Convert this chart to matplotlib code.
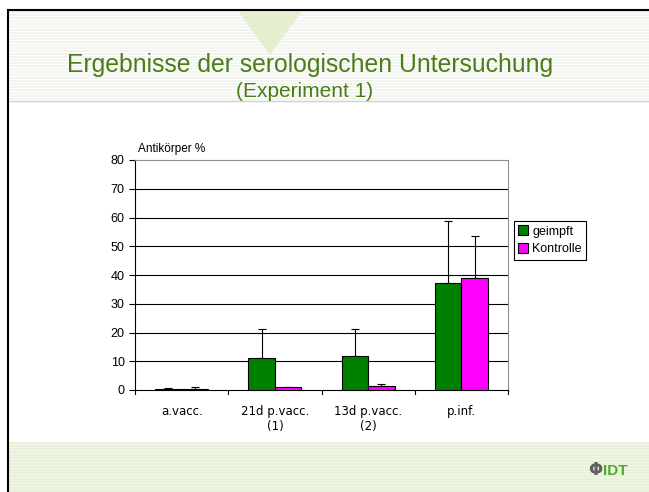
import numpy as np
from matplotlib import pyplot as plt
from matplotlib.patches import Rectangle, Polygon
from matplotlib.lines import Line2D

categories = ['a.vacc.', '21d p.vacc.\n(1)', '13d p.vacc.\n(2)', 'p.inf.']
geimpft = [0.5, 11.0, 12.0, 37.3]
geimpft_err = [0.3, 10.2, 9.2, 21.6]
kontrolle = [0.5, 1.0, 1.3, 38.8]
kontrolle_err = [0.7, 0.2, 0.7, 14.9]
yticks = [0, 10, 20, 30, 40, 50, 60, 70, 80]

W, H = 649, 492


def fx(px):
    return px / W


def fy(py):
    return 1 - py / H


def main():
    fig = plt.figure(figsize=(6.49, 4.92), dpi=100)
    fig.patch.set_facecolor('white')

    # slide background: striped header and footer bands
    for py in np.arange(11, 100, 3):
        fig.add_artist(Rectangle((fx(9), fy(py + 1.5)), 1, 1.5 / H,
                                 transform=fig.transFigure, color='#f3f4ef', lw=0))
    fig.add_artist(Rectangle((fx(9), fy(492)), 1, 50 / H, transform=fig.transFigure,
                             color='#f1f6e8', lw=0, zorder=-1))
    for py in np.arange(442, 492, 3):
        fig.add_artist(Rectangle((fx(9), fy(py + 1.5)), 1, 1.5 / H,
                                 transform=fig.transFigure, color='#e8f0da', lw=0))
    fig.add_artist(Polygon([(fx(238), fy(11)), (fx(302), fy(11)), (fx(270), fy(55))],
                           closed=True, transform=fig.transFigure, color='#e3efcf', lw=0))
    fig.add_artist(Line2D([fx(9), 1], [fy(101), fy(101)], transform=fig.transFigure,
                          color='#d0d0d0', lw=1))
    # slide frame
    fig.add_artist(Line2D([fx(8), fx(8)], [0, fy(10)], transform=fig.transFigure,
                          color='black', lw=1.5))
    fig.add_artist(Line2D([fx(8), 1], [fy(10), fy(10)], transform=fig.transFigure,
                          color='black', lw=1.5))

    fig.text(fx(67), fy(72), 'Ergebnisse der serologischen Untersuchung', color='#4a7d17',
             fontsize=17.8, family='Liberation Sans', va='baseline', ha='left')
    fig.text(fx(305), fy(97), '(Experiment 1)', color='#4a7d17',
             fontsize=15, family='Liberation Sans', va='baseline', ha='center')

    axes = fig.add_axes([fx(135), fy(390), (508 - 135) / W, (390 - 160) / H])
    x = np.arange(len(categories))
    w = 0.285
    axes.bar(x - w / 2, geimpft, w, color='#008000', edgecolor='black', lw=0.8,
             label='geimpft', zorder=3)
    axes.bar(x + w / 2, kontrolle, w, color='#ff00ff', edgecolor='black', lw=0.8,
             label='Kontrolle', zorder=3)
    axes.errorbar(x - w / 2, geimpft, yerr=[np.zeros(4), geimpft_err], fmt='none',
                  ecolor='black', elinewidth=0.8, capsize=3, capthick=0.8, zorder=2)
    axes.errorbar(x + w / 2, kontrolle, yerr=[np.zeros(4), kontrolle_err], fmt='none',
                  ecolor='black', elinewidth=0.8, capsize=3, capthick=0.8, zorder=2)

    axes.set_xlim(-0.5, len(categories) - 0.5)
    axes.set_ylim(0, 80)
    axes.set_yticks(yticks)
    axes.set_yticklabels([str(t) for t in yticks], fontsize=9, family='Liberation Sans')
    axes.set_xticks(x)
    axes.set_xticklabels(categories, fontsize=8.5, family='DejaVu Sans', linespacing=1.15)
    axes.tick_params(axis='x', length=0, pad=11)
    axes.tick_params(axis='y', length=4, width=0.8, direction='out')
    for k in range(len(categories) + 1):
        axes.plot([k - 0.5, k - 0.5], [0, -1.5], color='black', lw=0.8, clip_on=False)
    for t in yticks[1:-1]:
        axes.axhline(t, color='black', lw=0.8, zorder=1)
    axes.spines['left'].set_linewidth(0.8)
    axes.spines['bottom'].set_linewidth(0.8)
    axes.spines['top'].set_color('#909090')
    axes.spines['right'].set_color('#909090')
    axes.text(0.007, 1.02, 'Antikörper %', transform=axes.transAxes, fontsize=8.5,
              family='Liberation Sans', ha='left', va='bottom')

    leg = fig.legend(loc='upper left', bbox_to_anchor=(fx(514), fy(221)),
                     fancybox=False, edgecolor='black', framealpha=1,
                     prop={'family': 'Liberation Sans', 'size': 9},
                     handlelength=0.8, handleheight=0.8, handletextpad=0.3,
                     borderpad=0.35, labelspacing=0.45, borderaxespad=0)
    leg.get_frame().set_linewidth(0.8)

    fig.text(fx(603), fy(471), 'IDT', color='#4faa2c', fontsize=11, fontweight='bold',
             family='Liberation Sans', ha='left', va='center')
    fig.text(fx(602), fy(470), 'Φ', color='#606060', fontsize=12, fontweight='bold',
             family='DejaVu Sans', ha='right', va='center')

    fig.savefig('out.png', dpi=100)


if __name__ == '__main__':
    main()
